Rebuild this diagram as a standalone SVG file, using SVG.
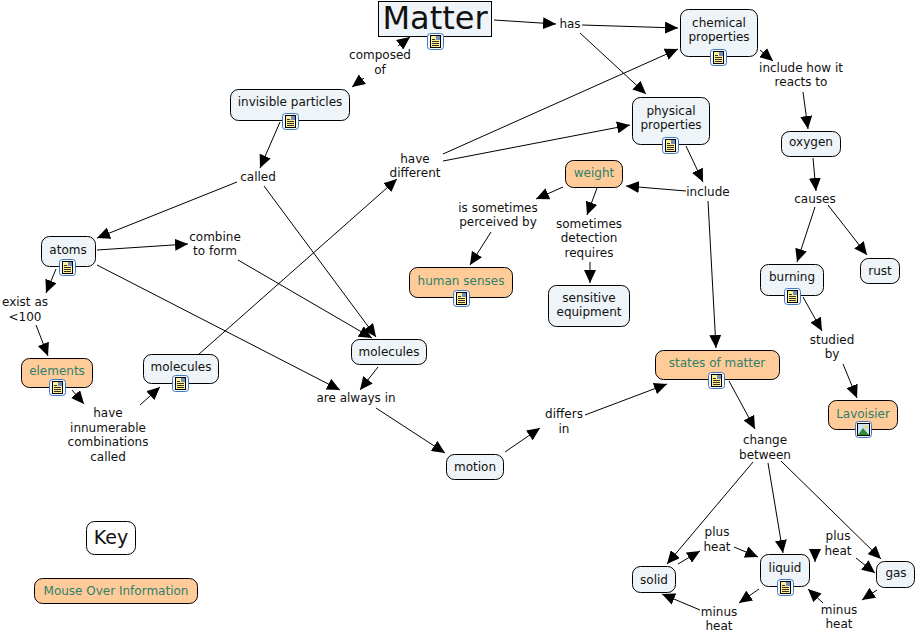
<svg xmlns="http://www.w3.org/2000/svg" width="917" height="634" viewBox="0 0 917 634">
<style>
text{font-family:"DejaVu Sans","Liberation Sans",sans-serif;font-size:12px;fill:#111;text-anchor:middle}
.n{fill:#eef4f7;stroke:#000;stroke-width:1}
.o{fill:#ffcc99;stroke:#000;stroke-width:1}
text.ot{fill:#2f7f6b}
#links line{stroke:#000;stroke-width:1;marker-end:url(#a)}
</style>
<defs>
<marker id="a" markerUnits="userSpaceOnUse" markerWidth="14" markerHeight="12" refX="13" refY="6" orient="auto"><path d="M0 0L13 6L0 12z" fill="#000"/></marker>
<g id="doc"><rect x="0.5" y="0.5" width="16" height="16" rx="3" fill="#f4f8fd" stroke="#3f78c0"/><rect x="3.500" y="2.500" width="10" height="12" fill="#ffee99" stroke="#000"/><path d="M5 6.500h3M5 8.500h7M5 10.500h7M5 12.500h7" stroke="#000" stroke-width="0.800"/><rect x="9" y="3" width="4" height="4" fill="#6f8fc0"/></g>
<g id="pic"><rect x="0.500" y="0.500" width="16" height="16" rx="3" fill="#f4f8fd" stroke="#3f78c0"/><rect x="2.500" y="2.500" width="12" height="12" fill="#cfe3f5" stroke="#000"/><path d="M3 14L8 7L14 14z" fill="#2e8b3a"/><circle cx="11" cy="6" r="1.500" fill="#f5d34a"/></g>
</defs>
<rect width="917" height="634" fill="#fff"/>
<g id="links">
<line x1="398" y1="46" x2="410" y2="37"/>
<line x1="364" y1="78" x2="352" y2="87"/>
<line x1="494" y1="20" x2="556" y2="24"/>
<line x1="582" y1="25" x2="678" y2="28"/>
<line x1="580" y1="33" x2="646" y2="94"/>
<line x1="760" y1="50" x2="773" y2="61"/>
<line x1="803" y1="92" x2="808" y2="129"/>
<line x1="813" y1="158" x2="816" y2="191"/>
<line x1="815" y1="207" x2="797" y2="262"/>
<line x1="828" y1="205" x2="867" y2="255"/>
<line x1="803" y1="297" x2="822" y2="331"/>
<line x1="843" y1="364" x2="857" y2="398"/>
<line x1="686" y1="146" x2="703" y2="182"/>
<line x1="686" y1="191" x2="626" y2="186"/>
<line x1="708" y1="201" x2="716" y2="348"/>
<line x1="563" y1="187" x2="536" y2="199"/>
<line x1="597" y1="188" x2="587" y2="215"/>
<line x1="590" y1="262" x2="590" y2="283"/>
<line x1="491" y1="232" x2="470" y2="265"/>
<line x1="280" y1="122" x2="260" y2="168"/>
<line x1="237" y1="182" x2="97" y2="238"/>
<line x1="264" y1="186" x2="376" y2="337"/>
<line x1="97" y1="250" x2="188" y2="244"/>
<line x1="238" y1="260" x2="372" y2="338"/>
<line x1="97" y1="265" x2="340" y2="390"/>
<line x1="56" y1="269" x2="46" y2="293"/>
<line x1="36" y1="325" x2="48" y2="356"/>
<line x1="72" y1="390" x2="84" y2="404"/>
<line x1="140" y1="405" x2="160" y2="387"/>
<line x1="198" y1="355" x2="397" y2="179"/>
<line x1="443" y1="154" x2="678" y2="49"/>
<line x1="443" y1="161" x2="630" y2="125"/>
<line x1="378" y1="367" x2="360" y2="390"/>
<line x1="376" y1="408" x2="445" y2="453"/>
<line x1="505" y1="452" x2="540" y2="428"/>
<line x1="585" y1="415" x2="667" y2="384"/>
<line x1="729" y1="381" x2="755" y2="429"/>
<line x1="753" y1="462" x2="667" y2="564"/>
<line x1="768" y1="463" x2="783" y2="553"/>
<line x1="781" y1="461" x2="881" y2="559"/>
<line x1="678" y1="564" x2="700" y2="551"/>
<line x1="734" y1="547" x2="758" y2="557"/>
<line x1="759" y1="589" x2="739" y2="603"/>
<line x1="700" y1="610" x2="662" y2="594"/>
<line x1="856" y1="558" x2="875" y2="573"/>
<line x1="815" y1="549" x2="815" y2="562"/>
<line x1="877" y1="590" x2="862" y2="600"/>
<line x1="823" y1="603" x2="808" y2="589"/>
</g>
<g id="labels">
<text x="380" y="59">composed</text><text x="380" y="74">of</text>
<text x="570" y="28">has</text>
<text x="801" y="72">include how it</text><text x="801" y="86">reacts to</text>
<text x="815" y="203">causes</text>
<text x="832" y="344">studied</text><text x="832" y="358">by</text>
<text x="708" y="196">include</text>
<text x="498" y="212">is sometimes</text><text x="498" y="226">perceived by</text>
<text x="589" y="228">sometimes</text><text x="589" y="242">detection</text><text x="589" y="257">requires</text>
<text x="415" y="163">have</text><text x="415" y="177">different</text>
<text x="258" y="181">called</text>
<text x="215" y="241">combine</text><text x="215" y="255">to form</text>
<text x="25" y="306">exist as</text><text x="25" y="321">&lt;100</text>
<text x="108" y="417">have</text><text x="108" y="432">innumerable</text><text x="108" y="446">combinations</text><text x="108" y="461">called</text>
<text x="356" y="402">are always in</text>
<text x="564" y="418">differs</text><text x="564" y="433">in</text>
<text x="765" y="444">change</text><text x="765" y="459">between</text>
<text x="717" y="536">plus</text><text x="717" y="551">heat</text>
<text x="838" y="540">plus</text><text x="838" y="555">heat</text>
<text x="719" y="616">minus</text><text x="719" y="630">heat</text>
<text x="839" y="614">minus</text><text x="839" y="628">heat</text>
</g>
<g id="matter"><rect class="n" x="378.500" y="1.500" width="113" height="35"/><text x="435" y="29" style="font-size:32px">Matter</text><use href="#doc" x="427" y="33"/></g>
<g id="invisible-particles"><rect class="n" x="230.500" y="89.500" width="119" height="31" rx="8"/><text x="290" y="106">invisible particles</text><use href="#doc" x="282" y="113"/></g>
<g id="chemical-properties"><rect class="n" x="680.500" y="9.500" width="77" height="47" rx="8"/><text x="719" y="27">chemical</text><text x="719" y="41">properties</text><use href="#doc" x="710" y="49"/></g>
<g id="physical-properties"><rect class="n" x="632.500" y="97.500" width="77" height="47" rx="8"/><text x="671" y="115">physical</text><text x="671" y="129">properties</text><use href="#doc" x="662" y="137"/></g>
<g id="weight"><rect class="o" x="565.500" y="160.500" width="57" height="27" rx="8"/><text class="ot" x="594" y="177">weight</text></g>
<g id="oxygen"><rect class="n" x="781.500" y="131.500" width="59" height="25" rx="8"/><text x="811" y="146">oxygen</text></g>
<g id="atoms"><rect class="n" x="41.500" y="236.500" width="54" height="30" rx="8"/><text x="68" y="254">atoms</text><use href="#doc" x="59" y="259"/></g>
<g id="burning"><rect class="n" x="760.500" y="264.500" width="63" height="31" rx="8"/><text x="792" y="281">burning</text><use href="#doc" x="784" y="288"/></g>
<g id="rust"><rect class="n" x="860.500" y="258.500" width="39" height="25" rx="8"/><text x="880" y="275">rust</text></g>
<g id="human-senses"><rect class="o" x="409.500" y="267.500" width="103" height="30" rx="8"/><text class="ot" x="461" y="285">human senses</text><use href="#doc" x="453" y="290"/></g>
<g id="sensitive-equipment"><rect class="n" x="548.500" y="285.500" width="81" height="41" rx="8"/><text x="589" y="302">sensitive</text><text x="589" y="316">equipment</text></g>
<g id="molecules-right"><rect class="n" x="351.500" y="339.500" width="75" height="25" rx="8"/><text x="389" y="356">molecules</text></g>
<g id="molecules-left"><rect class="n" x="143.500" y="354.500" width="75" height="29" rx="8"/><text x="181" y="371">molecules</text><use href="#doc" x="172" y="375"/></g>
<g id="elements"><rect class="o" x="21.500" y="358.500" width="71" height="29" rx="8"/><text class="ot" x="57" y="375">elements</text><use href="#doc" x="49" y="379"/></g>
<g id="states-of-matter"><rect class="o" x="655.500" y="350.500" width="124" height="29" rx="8"/><text class="ot" x="717" y="367">states of matter</text><use href="#doc" x="708" y="372"/></g>
<g id="lavoisier"><rect class="o" x="828.500" y="400.500" width="69" height="29" rx="8"/><text class="ot" x="863" y="418">Lavoisier</text><use href="#pic" x="855" y="421"/></g>
<g id="motion"><rect class="n" x="446.500" y="454.500" width="57" height="25" rx="8"/><text x="475" y="471">motion</text></g>
<g id="key"><rect x="86.500" y="521.500" width="49" height="33" rx="8" fill="#fff" stroke="#000"/><text x="111" y="544" style="font-size:19px">Key</text></g>
<g id="mouse-over"><rect class="o" x="34.500" y="578.500" width="163" height="25" rx="8"/><text class="ot" x="116" y="595">Mouse Over Information</text></g>
<g id="solid"><rect class="n" x="632.500" y="566.500" width="43" height="26" rx="8"/><text x="654" y="584">solid</text></g>
<g id="liquid"><rect class="n" x="760.500" y="554.500" width="49" height="32" rx="8"/><text x="785" y="572">liquid</text><use href="#doc" x="777" y="579"/></g>
<g id="gas"><rect class="n" x="876.500" y="561.500" width="38" height="26" rx="8"/><text x="896" y="577">gas</text></g>
</svg>
